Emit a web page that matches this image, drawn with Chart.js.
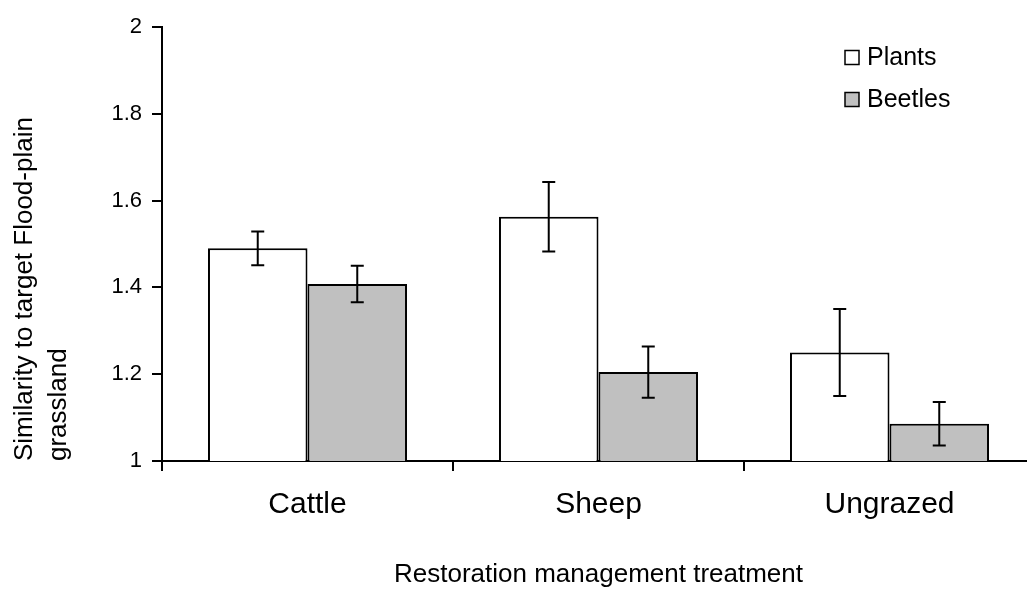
<!DOCTYPE html>
<html>
<head>
<meta charset="utf-8">
<script src="https://cdn.jsdelivr.net/npm/chart.js@4.4.1/dist/chart.umd.min.js"></script>
<style>
  html, body { margin: 0; padding: 0; background: #fff; overflow: hidden; }
  #wrap { width: 1040px; height: 590px; }
</style>
</head>
<body>
<div id="wrap"><canvas id="c" width="1040" height="590"></canvas></div>
<script>
const categories = ['Cattle', 'Sheep', 'Ungrazed'];
const plants = [1.49, 1.563, 1.25];
const plantsErr = [0.039, 0.08, 0.1];
const beetles = [1.408, 1.205, 1.086];
const beetlesErr = [0.042, 0.059, 0.05];
const yTicks = [1, 1.2, 1.4, 1.6, 1.8, 2];
const seriesNames = ['Plants', 'Beetles'];

const FONT = 'Arial, "Liberation Sans", sans-serif';

const errorBars = {
  id: 'errorBars',
  afterDatasetsDraw(chart) {
    const ctx = chart.ctx;
    const y = chart.scales.y;
    ctx.save();
    ctx.strokeStyle = '#000';
    ctx.lineWidth = 2;
    chart.data.datasets.forEach((ds, di) => {
      const meta = chart.getDatasetMeta(di);
      meta.data.forEach((bar, i) => {
        const v = ds.data[i], e = ds.err[i];
        const x = bar.x;
        const yt = y.getPixelForValue(v + e), yb = y.getPixelForValue(v - e);
        ctx.beginPath();
        ctx.moveTo(x, yt); ctx.lineTo(x, yb);
        ctx.moveTo(x - 6.5, yt); ctx.lineTo(x + 6.5, yt);
        ctx.moveTo(x - 6.5, yb); ctx.lineTo(x + 6.5, yb);
        ctx.stroke();
      });
    });
    ctx.restore();
  }
};

const customLegend = {
  id: 'customLegend',
  afterDraw(chart) {
    const ctx = chart.ctx;
    ctx.save();
    ctx.font = '25px ' + FONT;
    ctx.textBaseline = 'middle';
    ctx.textAlign = 'left';
    chart.data.datasets.forEach((ds, i) => {
      const cy = 57.5 + i * 42;
      ctx.fillStyle = ds.backgroundColor;
      ctx.fillRect(845, cy - 7, 14, 14);
      ctx.strokeStyle = '#000';
      ctx.lineWidth = 1.5;
      ctx.strokeRect(845, cy - 7, 14, 14);
      ctx.fillStyle = '#000';
      ctx.fillText(ds.label, 867, cy + 1);
    });
    ctx.restore();
  }
};

new Chart(document.getElementById('c'), {
  type: 'bar',
  data: {
    labels: categories,
    datasets: [
      { label: seriesNames[0], data: plants, err: plantsErr, backgroundColor: '#ffffff', borderColor: '#000', borderWidth: 2 },
      { label: seriesNames[1], data: beetles, err: beetlesErr, backgroundColor: '#c0c0c0', borderColor: '#000', borderWidth: 2 }
    ]
  },
  options: {
    responsive: false,
    animation: false,
    devicePixelRatio: 1,
    layout: { padding: { top: 27, right: 5, left: 0, bottom: 0 } },
    datasets: { bar: { categoryPercentage: 0.684, barPercentage: 1 } },
    plugins: { legend: { display: false }, tooltip: { enabled: false } },
    scales: {
      x: {
        grid: { display: true, drawOnChartArea: false, drawTicks: true, tickLength: 10, color: '#000', lineWidth: 2, offset: true },
        border: { display: true, color: '#000', width: 2 },
        ticks: { color: '#000', font: { family: FONT, size: 30 }, padding: 16 },
        title: { display: true, text: 'Restoration management treatment', color: '#000', font: { family: FONT, size: 26, lineHeight: 1.2 }, padding: { top: 0, bottom: 0 } },
        afterFit(scale) { scale.height = 129; }
      },
      y: {
        min: 1, max: 2,
        afterBuildTicks(scale) { scale.ticks = yTicks.map(v => ({ value: v })); },
        grid: { display: true, drawOnChartArea: false, drawTicks: true, tickLength: 10, color: '#000', lineWidth: 2 },
        border: { display: true, color: '#000', width: 2 },
        ticks: { color: '#000', font: { family: FONT, size: 22 }, padding: 10, callback: v => String(v) },
        title: { display: true, align: 'start', text: ['Similarity to target Flood-plain', 'grassland'], color: '#000', font: { family: FONT, size: 26, lineHeight: 1.3 }, padding: { top: 8 } },
        afterFit(scale) { scale.width = 162; }
      }
    }
  },
  plugins: [errorBars, customLegend]
});
</script>
</body>
</html>
